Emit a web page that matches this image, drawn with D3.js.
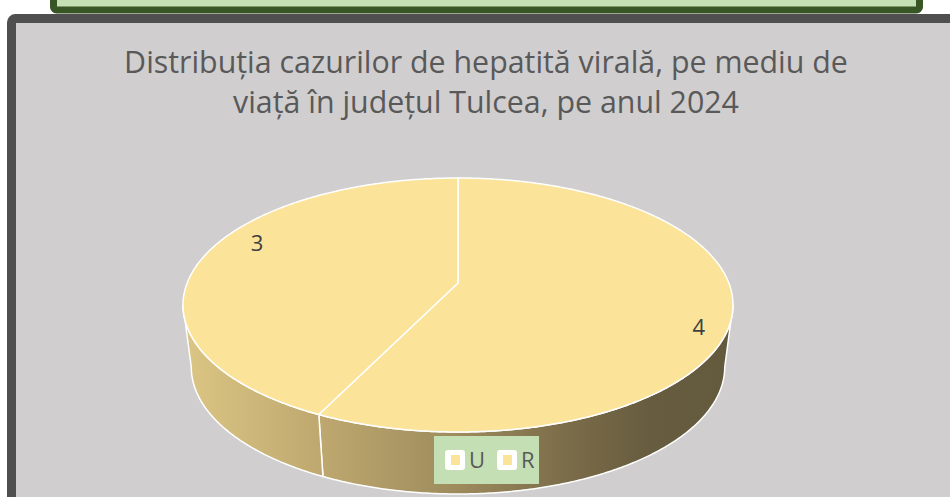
<!DOCTYPE html>
<html>
<head>
<meta charset="utf-8">
<script src="https://cdn.jsdelivr.net/npm/d3@7"></script>
<style>
  body { margin: 0; background: #fff; }
  svg { display: block; }
  text { font-variant-ligatures: none; }
</style>
</head>
<body>
<svg id="chart" width="950" height="497"></svg>
<script>
// data
var categories = ["U", "R"];
var values = [4, 3];
var titleLines = ["Distribuția cazurilor de hepatită virală, pe mediu de",
                  "viață în județul Tulcea, pe anul 2024"];

var W = 950, H = 497;
var font = "'Open Sans', Lato, sans-serif";
var svg = d3.select("#chart");

// green box peeking at the top
svg.append("rect")
    .attr("x", 53.5).attr("y", -20)
    .attr("width", 866).attr("height", 30)
    .attr("rx", 3)
    .attr("fill", "#c5e0b4")
    .attr("stroke", "#375623")
    .attr("stroke-width", 7);

// gray chart panel
svg.append("rect")
    .attr("x", 11.5).attr("y", 18.5)
    .attr("width", 1000).attr("height", 600)
    .attr("rx", 4)
    .attr("fill", "#d0cecf")
    .attr("stroke", "#4f4f4f")
    .attr("stroke-width", 9);

// title
var title = svg.append("g").attr("class", "title")
    .selectAll("text")
    .data(titleLines)
    .enter().append("text")
    .attr("x", 486)
    .attr("y", function (d, i) { return 73 + i * 40; })
    .attr("text-anchor", "middle")
    .attr("font-family", font)
    .attr("font-size", "27px")
    .attr("fill", "#595959")
    .text(function (d) { return d; });

// scale title so the first line is as wide as in the original
var w0 = title.node().getComputedTextLength();
title.attr("font-size", (27 * 724 / w0) + "px");

// 3d pie geometry
var cx = 458, cy = 305, rx = 275, ry = 127, depth = 62;
var c = -0.173;                 // perspective shift of the centre
var k = Math.sqrt(1 - c * c);

function proj(phi, r, dy, sx) {
    var u = r * Math.sin(phi), v = -r * Math.cos(phi);
    var den = 1 + c * v;
    return [cx + sx * rx * k * u / den, cy + ry * (v + c) / den + dy];
}

function rim(a0, a1, dy, sx) {
    var pts = [], n = Math.max(2, Math.ceil((a1 - a0) / 0.01));
    for (var i = 0; i <= n; i++) {
        pts.push(proj(a0 + (a1 - a0) * i / n, 1, dy, sx));
    }
    return pts;
}

var pie = d3.pie().sort(null)(values);
var line = d3.line();

var visA = Math.acos(c);            // right silhouette
var visB = 2 * Math.PI - visA;      // left silhouette

var defs = svg.append("defs");
var grad = defs.append("linearGradient")
    .attr("id", "sideGrad")
    .attr("gradientUnits", "userSpaceOnUse")
    .attr("x1", cx - rx).attr("x2", cx + rx)
    .attr("y1", 0).attr("y2", 0);
[[0, "#dcc684"], [0.25, "#bea86f"], [0.5, "#9d8b5d"],
 [0.7, "#7b6c49"], [0.85, "#675c3f"], [1, "#635a3e"]].forEach(function (s) {
    grad.append("stop").attr("offset", s[0]).attr("stop-color", s[1]);
});

var gPie = svg.append("g").attr("class", "pie");

// sides
pie.forEach(function (d) {
    var a0 = Math.max(d.startAngle, visA), a1 = Math.min(d.endAngle, visB);
    if (a1 <= a0) return;
    var top = rim(a0, a1, 0, 1);
    var bot = rim(a0, a1, depth, 0.97).reverse();
    gPie.append("path")
        .attr("d", line(top.concat(bot)) + "Z")
        .attr("fill", "url(#sideGrad)")
        .attr("stroke", "#ffffff")
        .attr("stroke-width", 1.5)
        .attr("stroke-linejoin", "round");
});

// top faces
pie.forEach(function (d) {
    var pts = [proj(0, 0, 0, 1)].concat(rim(d.startAngle, d.endAngle, 0, 1));
    gPie.append("path")
        .attr("d", line(pts) + "Z")
        .attr("fill", "#fbe39a")
        .attr("stroke", "#ffffff")
        .attr("stroke-width", 1.5)
        .attr("stroke-linejoin", "round");
});

// data labels
gPie.selectAll(".lbl")
    .data(pie)
    .enter().append("text")
    .attr("class", "lbl")
    .attr("transform", function (d) {
        var p = proj((d.startAngle + d.endAngle) / 2 + 0.17, 0.88, 0, 1);
        return "translate(" + p[0] + "," + p[1] + ")";
    })
    .attr("dx", 7)
    .attr("dy", "0.35em")
    .attr("text-anchor", "middle")
    .attr("font-family", font)
    .attr("font-size", "22px")
    .attr("fill", "#404040")
    .text(function (d) { return d.value; });

// legend
var leg = svg.append("g").attr("class", "legend");
leg.append("rect")
    .attr("x", 434).attr("y", 436)
    .attr("width", 105).attr("height", 48)
    .attr("fill", "#c5dfb4");

var items = leg.selectAll(".item")
    .data(categories)
    .enter().append("g")
    .attr("class", "item")
    .attr("transform", function (d, i) { return "translate(" + (445 + i * 52) + ",450)"; });

items.append("rect")
    .attr("width", 20).attr("height", 20).attr("rx", 3)
    .attr("fill", "#ffffff");
items.append("rect")
    .attr("x", 6).attr("y", 5)
    .attr("width", 9).attr("height", 10)
    .attr("fill", "#fbe39a");
items.append("text")
    .attr("x", 24).attr("y", 18)
    .attr("font-family", font)
    .attr("font-size", "22px")
    .attr("fill", "#595959")
    .text(function (d) { return d; });
</script>
</body>
</html>
